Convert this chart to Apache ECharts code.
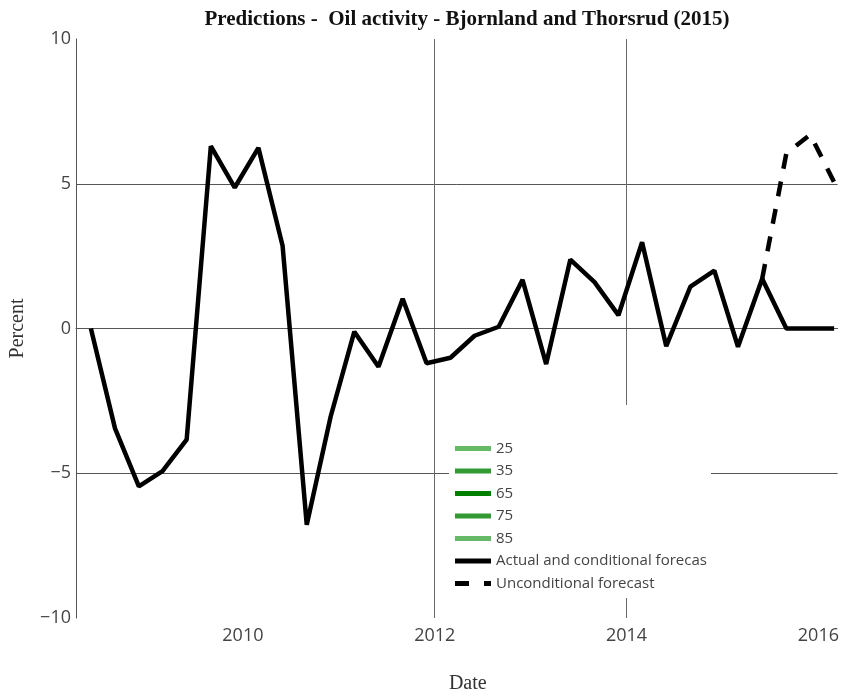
<!DOCTYPE html>
<html>
<head>
<meta charset="utf-8">
<script src="https://cdn.jsdelivr.net/npm/echarts@6/dist/echarts.min.js"></script>
<style>html,body{margin:0;padding:0;background:#fff;overflow:hidden;}#chart{width:842px;height:699px;}</style>
</head>
<body>
<div id="chart"></div>
<script>
// Quarterly dates
var dates = ['2008-06-01','2008-09-01','2008-12-01','2009-03-01','2009-06-01','2009-09-01','2009-12-01','2010-03-01',
  '2010-06-01','2010-09-01','2010-12-01','2011-03-01','2011-06-01','2011-09-01','2011-12-01','2012-03-01',
  '2012-06-01','2012-09-01','2012-12-01','2013-03-01','2013-06-01','2013-09-01','2013-12-01','2014-03-01',
  '2014-06-01','2014-09-01','2014-12-01','2015-03-01','2015-06-01','2015-09-01','2015-12-01','2016-03-01'];
// Actual and conditional forecast (percent)
var actualValues = [0.0, -3.45, -5.45, -4.93, -3.84, 6.30, 4.87, 6.24,
  2.86, -6.78, -3.04, -0.11, -1.32, 1.03, -1.20, -1.01,
  -0.25, 0.06, 1.68, -1.23, 2.38, 1.60, 0.46, 2.98,
  -0.61, 1.45, 2.00, -0.63, 1.72, 0.0, 0.0, 0.0];
// Unconditional forecast (from 2015-06 onward)
var uncondDates = ['2015-06-01','2015-09-01','2015-12-01','2016-03-01'];
var uncondValues = [1.72, 6.05, 6.70, 5.05];
// Percentile bands (legend only, no visible data)
var bandNames = ['25','35','65','75','85'];
var bandColors = ['#66b966','#339a33','#007f00','#339a33','#66b966'];
var xTicks = [2010, 2012, 2014, 2016];
var yTicks = [-10, -5, 0, 5, 10];

function toYear(s) {
  var p = s.split('-');
  var y = +p[0], m = +p[1], d = +p[2];
  var start = Date.UTC(y, 0, 1), end = Date.UTC(y + 1, 0, 1);
  return y + (Date.UTC(y, m - 1, d) - start) / (end - start);
}

var actualData = dates.map(function (d, i) { return [toYear(d), actualValues[i]]; });
var uncondData = uncondDates.map(function (d, i) { return [toYear(d), uncondValues[i]]; });

var series = [];
bandNames.forEach(function (n, i) {
  series.push({ name: n, type: 'line', data: [], symbol: 'none', itemStyle: { color: bandColors[i] }, lineStyle: { color: bandColors[i], width: 6 } });
});
series.push({ name: 'Unconditional forecast', type: 'line', data: uncondData, symbol: 'none', z: 3,
  itemStyle: { color: '#000' }, lineStyle: { color: '#000', width: 4.5, type: [15, 13] } });
series.push({ name: 'Actual and conditional forecast', type: 'line', data: actualData, symbol: 'none', z: 4,
  itemStyle: { color: '#000' }, lineStyle: { color: '#000', width: 4.5 } });

var legendData = bandNames.map(function (n, i) {
  return { name: n, icon: 'path://M0,0h36v5h-36z', itemStyle: { color: bandColors[i], borderWidth: 0 } };
});
legendData.push({ name: 'Actual and conditional forecast', icon: 'path://M0,0h36v5h-36z', itemStyle: { color: '#000', borderWidth: 0 } });
legendData.push({ name: 'Unconditional forecast', icon: 'path://M0,0h14v5h-14z M29,0h7v5h-7z', itemStyle: { color: '#000', borderWidth: 0 } });

var chart = echarts.init(document.getElementById('chart'), null, { renderer: 'canvas' });
chart.setOption({
  animation: false,
  backgroundColor: '#fff',
  title: {
    text: 'Predictions -  Oil activity - Bjornland and Thorsrud (2015)',
    left: 462, top: 4, textAlign: 'center',
    textStyle: { fontFamily: 'Liberation Serif', fontWeight: 'bold', fontSize: 21, color: '#111' }
  },
  grid: { left: 76, right: 4, top: 39, bottom: 79, containLabel: false },
  legend: {
    orient: 'vertical', left: 449, top: 405,
    padding: [35, 1, 6, 6],
    itemGap: 5.5, itemWidth: 36, itemHeight: 6,
    backgroundColor: '#fff',
    data: legendData,
    textStyle: { fontFamily: 'Open Sans', fontSize: 15, lineHeight: 17, color: '#444', width: 214, overflow: 'truncate', ellipsis: '' }
  },
  xAxis: {
    type: 'value', min: 2008.26, max: 2016.2,
    name: 'Date', nameLocation: 'middle', nameGap: 56,
    nameTextStyle: { fontFamily: 'Liberation Serif', fontSize: 20, color: '#333', padding: [0, 0, 0, 22] },
    axisLine: { show: true, lineStyle: { color: '#555', width: 1 } },
    axisTick: { show: false, customValues: xTicks },
    axisLabel: { customValues: xTicks, margin: 9, fontFamily: 'Open Sans', fontSize: 18, color: '#444', formatter: function (v) { return String(v); } },
    splitLine: { show: true, showMinLine: false, showMaxLine: false, lineStyle: { color: '#6a6a6a', width: 1 } }
  },
  yAxis: {
    type: 'value', min: -10, max: 10, interval: 5,
    name: 'Percent', nameLocation: 'middle', nameGap: 48,
    nameTextStyle: { fontFamily: 'Liberation Serif', fontSize: 20, color: '#333' },
    axisLine: { show: true, lineStyle: { color: '#555', width: 1 } },
    axisTick: { show: false },
    axisLabel: { margin: 5, fontFamily: 'Open Sans', fontSize: 18, color: '#444',
      formatter: function (v) { return v < 0 ? '\u2212' + Math.abs(v) : String(v); } },
    splitLine: { show: true, showMinLine: false, showMaxLine: false, lineStyle: { color: '#555', width: 1 } }
  },
  series: series
});
</script>
</body>
</html>
